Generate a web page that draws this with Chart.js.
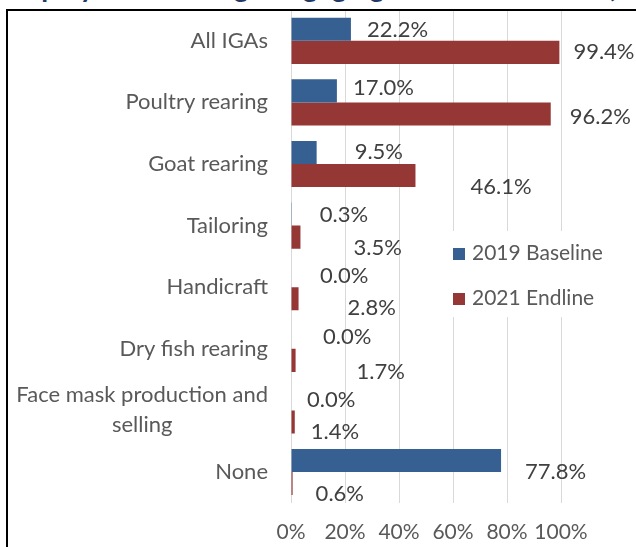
<!DOCTYPE html>
<html>
<head>
<meta charset="utf-8">
<script src="https://cdn.jsdelivr.net/npm/chart.js@4.4.0/dist/chart.umd.min.js"></script>
<style>
  html, body { margin: 0; padding: 0; background: #fff; }
  #wrap { position: relative; width: 636px; height: 547px; overflow: hidden; }
  #title { position: absolute; left: 2px; top: -31px; white-space: nowrap; font: bold 28px Lato, sans-serif; color: #1f3864; }
  #frame { position: absolute; left: 6px; top: 9px; width: 650px; height: 560px; border: 2px solid #000; box-sizing: border-box; }
  canvas { position: absolute; left: 0; top: 0; }
  #legend { position: absolute; left: 444px; top: 231px; width: 176px; height: 86px; background: #fff; font: 21px Lato, sans-serif; color: #595959; }
  .item { position: absolute; left: 9px; white-space: nowrap; }
  .sw { display: inline-block; width: 12px; height: 12px; margin-right: 7px; vertical-align: 0px; }
</style>
</head>
<body>
<div id="wrap">
  <div id="title">Employment through Engaging in Different IGAs (%)</div>
  <canvas id="chart" width="636" height="562"></canvas>
  <div id="legend">
    <div class="item" style="top:8px"><span class="sw" style="background:#376092"></span>2019 Baseline</div>
    <div class="item" style="top:53px"><span class="sw" style="background:#953735"></span>2021 Endline</div>
  </div>
  <div id="frame"></div>
</div>
<script>
const categories = ['All IGAs', 'Poultry rearing', 'Goat rearing', 'Tailoring', 'Handicraft',
    'Dry fish rearing', ['Face mask production and', 'selling'], 'None'];
const baseline2019 = [22.2, 17.0, 9.5, 0.3, 0.0, 0.0, 0.0, 77.8];
const endline2021 = [99.4, 96.2, 46.1, 3.5, 2.8, 1.7, 1.4, 0.6];
const xTicks = [0, 20, 40, 60, 80, 100];

// hand-placed label nudges (pixels from bar end / bar centre), like the source chart
const nudgeX = [
    [16, 16, 38, 28, 29, 32, 16, 24],
    [14, 19, 55, 53, 49, 61, 16, 23]
];
const nudgeY = [
    [1, -3, -1, 1, 0, 0, 1, 11],
    [0, 3, 11, 11, 9, 12, 10, 10]
];

const labelPlugin = {
    id: 'labels',
    afterDatasetsDraw(chart) {
        const ctx = chart.ctx;
        const yScale = chart.scales.y;
        ctx.save();
        ctx.font = '22px Lato, sans-serif';
        ctx.fillStyle = '#595959';
        ctx.textBaseline = 'middle';
        ctx.textAlign = 'center';
        categories.forEach(function (cat, i) {
            const lines = Array.isArray(cat) ? cat : [cat];
            const maxW = Math.max.apply(null, lines.map(l => ctx.measureText(l).width));
            const cx = chart.chartArea.left - 23 - maxW / 2;
            const y0 = yScale.getPixelForValue(i) - (lines.length - 1) * 15;
            lines.forEach(function (l, j) {
                ctx.fillText(l, cx, y0 + j * 30);
            });
        });

        ctx.fillStyle = '#404040';
        ctx.textAlign = 'left';
        chart.data.datasets.forEach(function (ds, d) {
            chart.getDatasetMeta(d).data.forEach(function (bar, i) {
                const txt = ds.data[i].toFixed(1) + '%';
                ctx.fillText(txt, bar.x + nudgeX[d][i], bar.y + nudgeY[d][i]);
            });
        });
        ctx.restore();
    }
};

new Chart(document.getElementById('chart').getContext('2d'), {
    type: 'bar',
    data: {
        labels: categories,
        datasets: [{
            label: '2019 Baseline',
            data: baseline2019,
            backgroundColor: '#376092'
        }, {
            label: '2021 Endline',
            data: endline2021,
            backgroundColor: '#953735'
        }]
    },
    options: {
        indexAxis: 'y',
        responsive: false,
        animation: false,
        devicePixelRatio: 1,
        categoryPercentage: 0.75,
        barPercentage: 1,
        layout: { padding: { left: 291, right: 75, top: 10, bottom: 0 } },
        plugins: {
            legend: { display: false },
            tooltip: { enabled: false }
        },
        scales: {
            x: {
                min: 0,
                max: 100,
                afterBuildTicks: function (axis) {
                    axis.ticks = xTicks.map(v => ({ value: v }));
                },
                ticks: {
                    callback: v => v + '%',
                    font: { family: 'Lato', size: 21 },
                    color: '#595959',
                    padding: 17,
                    autoSkip: false,
                    maxRotation: 0
                },
                grid: { color: '#d9d9d9', drawTicks: false },
                border: { display: false }
            },
            y: { display: false }
        }
    },
    plugins: [labelPlugin]
});
</script>
</body>
</html>
